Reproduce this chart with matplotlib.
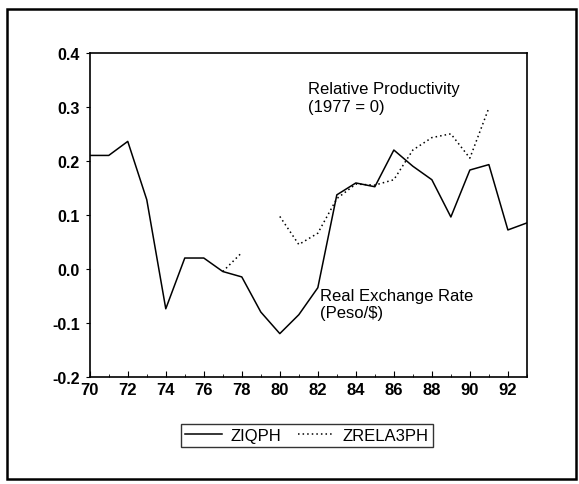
import numpy as np
import matplotlib.pyplot as plt
from matplotlib.patches import Rectangle

plt.rcParams['font.family'] = ['Liberation Sans', 'DejaVu Sans']

years = list(range(70, 94))
ziqph = [0.21, 0.21, 0.236, 0.128, -0.074, 0.02, 0.02, -0.005, -0.015, -0.08,
         -0.12, -0.085, -0.035, 0.137, 0.159, 0.152, 0.22, 0.19, 0.165, 0.096,
         0.183, 0.193, 0.072, 0.085]
zrela3ph = [np.nan] * 7 + [-0.005, 0.03, np.nan, 0.097, 0.045, 0.066, 0.13,
                           0.157, 0.155, 0.165, 0.22, 0.243, 0.25, 0.205, 0.298,
                           np.nan, np.nan]

fig = plt.figure(figsize=(5.79, 4.85), dpi=100)
fig.patches.append(Rectangle((0.012, 0.01), 0.982, 0.97, transform=fig.transFigure,
                             fill=False, lw=1.8, color='black'))
ax = fig.add_axes([0.155, 0.221, 0.755, 0.668])

ax.plot(years, ziqph, color='black', lw=1.1, label='ZIQPH')
ax.plot(years, zrela3ph, color='black', lw=1.1, ls=(0, (1, 2)), label='ZRELA3PH')

ax.set_xlim(70, 93)
ax.set_ylim(-0.2, 0.4)
ax.set_xticks(range(70, 93, 2))
ax.set_xticks(range(70, 94), minor=True)
ax.set_yticks(np.arange(-0.2, 0.41, 0.1))
ax.set_yticklabels(['-0.2', '-0.1', '0.0', '0.1', '0.2', '0.3', '0.4'])
ax.tick_params(axis='x', direction='in', length=4, labelsize=12, pad=4)
ax.tick_params(axis='x', which='minor', direction='in', length=2.5)
ax.tick_params(axis='y', direction='out', length=3, labelsize=11.5, pad=4)
for lab in ax.get_xticklabels() + ax.get_yticklabels():
    lab.set_fontweight('bold')
for sp in ax.spines.values():
    sp.set_linewidth(1.2)

ax.text(81.5, 0.317, 'Relative Productivity\n(1977 = 0)', fontsize=12,
        linespacing=1.2, va='center', ha='left')
ax.text(82.1, -0.065, 'Real Exchange Rate\n(Peso/$)', fontsize=12,
        linespacing=1.2, va='center', ha='left')

leg = ax.legend(loc='upper center', bbox_to_anchor=(0.497, -0.145), ncol=2,
                frameon=True, fancybox=False, edgecolor='black', fontsize=12,
                handlelength=2.2, columnspacing=1.0, borderpad=0.25,
                handletextpad=0.5, borderaxespad=0)
leg.get_frame().set_linewidth(1.0)

fig.savefig('out.png', dpi=100)
